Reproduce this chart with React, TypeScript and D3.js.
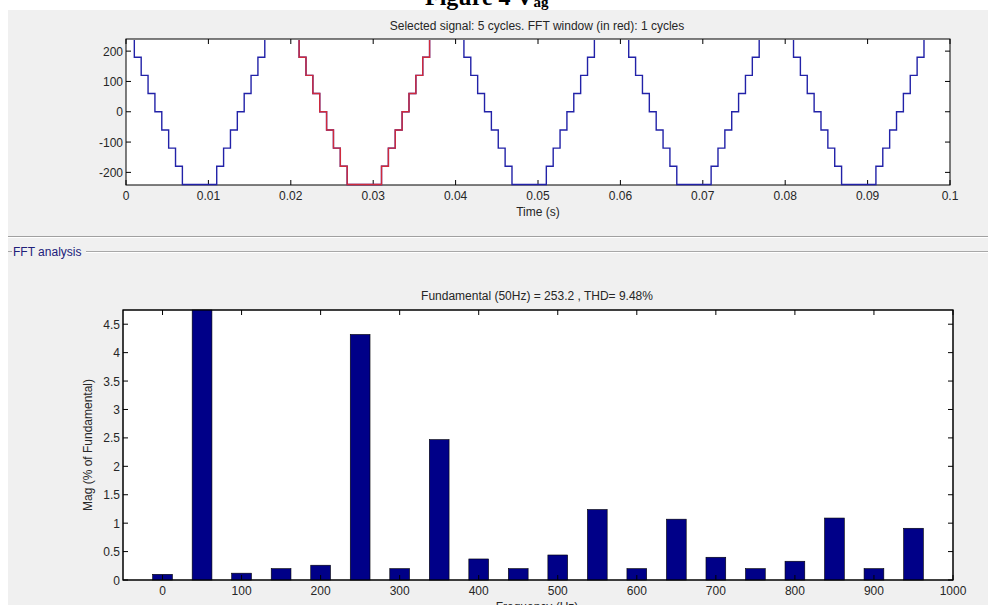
import React from "react"
import * as d3 from "d3"

// staircase signal: one level per 1/1200 s slot, first edge read at t = 0.00101 s
const sampleStep = 1 / 1200
const firstEdge = 0.00101
const signalLevels = [
  240,
  180, 120, 60, 0, -60, -120, -180, -240, -240, -240, -240, -240, -180, -120, -60, 0, 60, 120, 180, 240, 240, 240, 240, 240,
  180, 120, 60, 0, -60, -120, -180, -240, -240, -240, -240, -240, -180, -120, -60, 0, 60, 120, 180, 240, 240, 240, 240, 240,
  180, 120, 60, 0, -60, -120, -180, -240, -240, -240, -240, -240, -180, -120, -60, 0, 60, 120, 180, 240, 240, 240, 240, 240,
  180, 120, 60, 0, -60, -120, -180, -240, -240, -240, -240, -240, -180, -120, -60, 0, 60, 120, 180, 240, 240, 240, 240, 240,
  180, 120, 60, 0, -60, -120, -180, -240, -240, -240, -240, -240, -180, -120, -60, 0, 60, 120, 180, 240, 240, 240, 240, 240,
]
const fftWindow = [0.02, 0.04]
const timeTicks = [0, 0.01, 0.02, 0.03, 0.04, 0.05, 0.06, 0.07, 0.08, 0.09, 0.1]
const signalTicks = [-200, -100, 0, 100, 200]

// harmonic spectrum, % of fundamental
const frequencies = [0, 50, 100, 150, 200, 250, 300, 350, 400, 450, 500, 550, 600, 650, 700, 750, 800, 850, 900, 950]
const magnitudes = [0.1, 100, 0.12, 0.2, 0.26, 4.32, 0.2, 2.47, 0.37, 0.2, 0.44, 1.24, 0.2, 1.07, 0.4, 0.2, 0.33, 1.09, 0.2, 0.91]
const freqTicks = [0, 100, 200, 300, 400, 500, 600, 700, 800, 900, 1000]
const magTicks = [0, 0.5, 1, 1.5, 2, 2.5, 3, 3.5, 4, 4.5]

const font = "'Liberation Sans', Arial, sans-serif"
const txt = "#262626"
const fs = 12

const edges = signalLevels.map((v, i) => ({ t: i === 0 ? 0 : firstEdge + (i - 1) * sampleStep, v }))

function segment(t0: number, t1: number) {
  const pts: { t: number; v: number }[] = []
  edges.forEach((p, i) => {
    const next = i + 1 < edges.length ? edges[i + 1].t : Infinity
    if (next <= t0 || p.t >= t1) return
    pts.push({ t: Math.max(p.t, t0), v: p.v })
  })
  pts.push({ t: t1, v: pts[pts.length - 1].v })
  return pts
}

export default function App() {
  // top axes
  const xT = d3.scaleLinear().domain([0, 0.1]).range([126, 950])
  const yT = d3.scaleLinear().domain([-240, 240]).range([184.5, 39])
  const line = d3.line<{ t: number; v: number }>()
    .x(d => xT(d.t))
    .y(d => yT(d.v))
    .curve(d3.curveStepAfter)

  // bottom axes
  const xB = d3.scaleLinear().domain([-50, 1000]).range([123, 953])
  const yB = d3.scaleLinear().domain([0, 4.75]).range([580, 310]).clamp(true)
  const barW = 25

  const fmtT = (d: number) => (d === 0 ? "0" : d === 0.1 ? "0.1" : d3.format(".2f")(d))

  return (
    <svg width={988} height={605} style={{ position: "absolute", left: 0, top: 0 }} fontFamily={font}>
      <rect x={0} y={0} width={988} height={605} fill="#fff" />
      <text x={425} y={5} fontFamily="'Liberation Serif', 'Times New Roman', serif" fontWeight="bold" fontSize={24} fill="#000">
        Figure 4 V<tspan fontSize={15} dy={2}>ag</tspan>
      </text>
      <rect x={8} y={10} width={980} height={595} fill="#f0f0f0" />

      {/* signal plot */}
      <text x={537} y={29.5} fontSize={fs} textAnchor="middle" fill={txt}>
        Selected signal: 5 cycles. FFT window (in red): 1 cycles
      </text>
      <rect x={126} y={39} width={824} height={146} fill="#fff" stroke="#000" strokeWidth={1} />
      {timeTicks.map(t => (
        <g key={"tt" + t}>
          <line x1={xT(t)} x2={xT(t)} y1={185} y2={180} stroke="#000" />
          <line x1={xT(t)} x2={xT(t)} y1={39} y2={44} stroke="#000" />
          <text x={xT(t)} y={200} fontSize={fs} textAnchor="middle" fill={txt}>{fmtT(t)}</text>
        </g>
      ))}
      {signalTicks.map(v => (
        <g key={"st" + v}>
          <line x1={126} x2={131} y1={yT(v)} y2={yT(v)} stroke="#000" />
          <line x1={950} x2={945} y1={yT(v)} y2={yT(v)} stroke="#000" />
          <text x={123} y={yT(v) + 4.5} fontSize={fs} textAnchor="end" fill={txt}>{v}</text>
        </g>
      ))}
      <clipPath id="sigclip">
        <rect x={126} y={40} width={825} height={146} />
      </clipPath>
      <g clipPath="url(#sigclip)">
        <path d={line(segment(0, 0.1)) || ""} fill="none" stroke="#2222a8" strokeWidth={1.4} />
        <path d={line(segment(fftWindow[0], fftWindow[1])) || ""} fill="none" stroke="#d02a3c" strokeWidth={1.4} />
      </g>
      <text x={538} y={216} fontSize={fs} textAnchor="middle" fill={txt}>Time (s)</text>

      {/* panel separators */}
      <line x1={8} x2={988} y1={236.5} y2={236.5} stroke="#a0a0a0" />
      <line x1={8} x2={988} y1={237.5} y2={237.5} stroke="#fff" />
      <line x1={8} x2={12} y1={251.5} y2={251.5} stroke="#a8a8a8" />
      <line x1={86} x2={988} y1={251.5} y2={251.5} stroke="#a8a8a8" />
      <line x1={86} x2={988} y1={252.5} y2={252.5} stroke="#fff" />
      <text x={13} y={256} fontSize={fs} fill="#20207a">FFT analysis</text>

      {/* spectrum */}
      <text x={537} y={300} fontSize={fs} textAnchor="middle" fill={txt}>
        Fundamental (50Hz) = 253.2 , THD= 9.48%
      </text>
      <rect x={123} y={310} width={830} height={270} fill="#fff" stroke="#000" strokeWidth={1} />
      {frequencies.map((f, i) => (
        <rect
          key={"b" + f}
          x={xB(f - barW / 2)}
          y={yB(magnitudes[i])}
          width={xB(f + barW / 2) - xB(f - barW / 2)}
          height={580 - yB(magnitudes[i])}
          fill="#000088"
          stroke="#000"
          strokeWidth={0.6}
        />
      ))}
      <rect x={123} y={310} width={830} height={270} fill="none" stroke="#000" strokeWidth={1} />
      {freqTicks.map(f => (
        <g key={"ft" + f}>
          <line x1={xB(f)} x2={xB(f)} y1={580} y2={575} stroke="#000" />
          <line x1={xB(f)} x2={xB(f)} y1={310} y2={315} stroke="#000" />
          <text x={xB(f)} y={595} fontSize={fs} textAnchor="middle" fill={txt}>{f}</text>
        </g>
      ))}
      {magTicks.map(m => (
        <g key={"mt" + m}>
          <line x1={123} x2={128} y1={yB(m)} y2={yB(m)} stroke="#000" />
          <line x1={953} x2={948} y1={yB(m)} y2={yB(m)} stroke="#000" />
          <text x={120} y={yB(m) + 4.5} fontSize={fs} textAnchor="end" fill={txt}>{m}</text>
        </g>
      ))}
      <text transform="translate(92,445) rotate(-90)" fontSize={fs} textAnchor="middle" fill={txt}>
        Mag (% of Fundamental)
      </text>
      <text x={537} y={611} fontSize={fs} textAnchor="middle" fill={txt}>Frequency (Hz)</text>
    </svg>
  )
}
